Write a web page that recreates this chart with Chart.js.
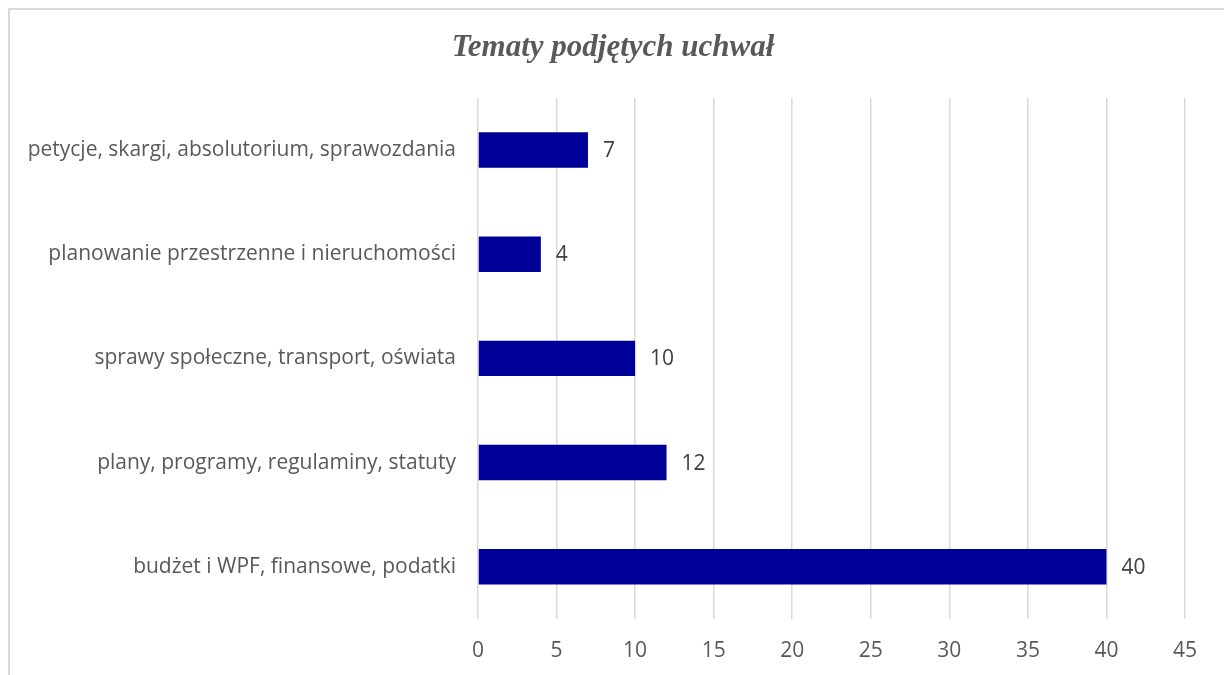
<!DOCTYPE html>
<html>
<head>
<meta charset="utf-8">
<script src="https://cdn.jsdelivr.net/npm/chart.js@4"></script>
<style>
  html, body { margin: 0; padding: 0; background: #fff; overflow: hidden; }
  #wrap { position: relative; width: 1224px; height: 675px; overflow: hidden; }
  #frame { position: absolute; left: 8px; top: 8px; width: 1300px; height: 800px;
           border-left: 2px solid #d9d9d9; border-top: 2px solid #d9d9d9; pointer-events: none; }
  canvas { position: absolute; left: 0; top: 0; }
</style>
</head>
<body>
<div id="wrap">
  <canvas id="c" width="1224" height="700"></canvas>
  <div id="frame"></div>
</div>
<script>
const title = 'Tematy podjętych uchwał';
const categories = [
  'petycje, skargi, absolutorium, sprawozdania',
  'planowanie przestrzenne i nieruchomości',
  'sprawy społeczne, transport, oświata',
  'plany, programy, regulaminy, statuty',
  'budżet i WPF, finansowe, podatki'
];
const values = [7, 4, 10, 12, 40];
const xMin = 0, xMax = 45, xStep = 5;

const valueLabels = {
  id: 'valueLabels',
  afterDatasetsDraw(chart) {
    const ctx = chart.ctx;
    const meta = chart.getDatasetMeta(0);
    ctx.save();
    ctx.font = '21px "Open Sans"';
    ctx.fillStyle = '#404040';
    ctx.textAlign = 'left';
    ctx.textBaseline = 'middle';
    meta.data.forEach((bar, i) => {
      ctx.fillText(String(values[i]), bar.x + 15, bar.y + 1);
    });
    ctx.restore();
  }
};

const centeredTitle = {
  id: 'centeredTitle',
  afterDraw(chart) {
    const ctx = chart.ctx;
    ctx.save();
    ctx.font = 'italic bold 31px "Liberation Serif"';
    ctx.fillStyle = '#595959';
    ctx.textAlign = 'center';
    ctx.textBaseline = 'middle';
    ctx.fillText(title, 613, 48);
    ctx.restore();
  }
};

new Chart(document.getElementById('c'), {
  type: 'bar',
  data: {
    labels: categories,
    datasets: [{
      data: values,
      backgroundColor: '#000099',
      borderWidth: 0,
      barPercentage: 0.34,
      categoryPercentage: 1.0
    }]
  },
  options: {
    indexAxis: 'y',
    responsive: false,
    animation: false,
    devicePixelRatio: 1,
    layout: { padding: { top: 98, right: 39, bottom: 16, left: 10 } },
    plugins: {
      legend: { display: false },
      tooltip: { enabled: false },
      title: { display: false }
    },
    scales: {
      x: {
        min: xMin, max: xMax,
        ticks: { stepSize: xStep, color: '#595959', font: { family: 'Open Sans', size: 21 }, padding: 20 },
        grid: { color: '#d9d9d9', lineWidth: 1.5, drawTicks: false },
        border: { display: false }
      },
      y: {
        ticks: { color: '#595959', font: { family: 'Open Sans', size: 21 }, padding: 22 },
        grid: { display: false, drawTicks: false },
        border: { display: false },
        afterFit(scale) { scale.width = 468; }
      }
    }
  },
  plugins: [valueLabels, centeredTitle]
});
</script>
</body>
</html>
